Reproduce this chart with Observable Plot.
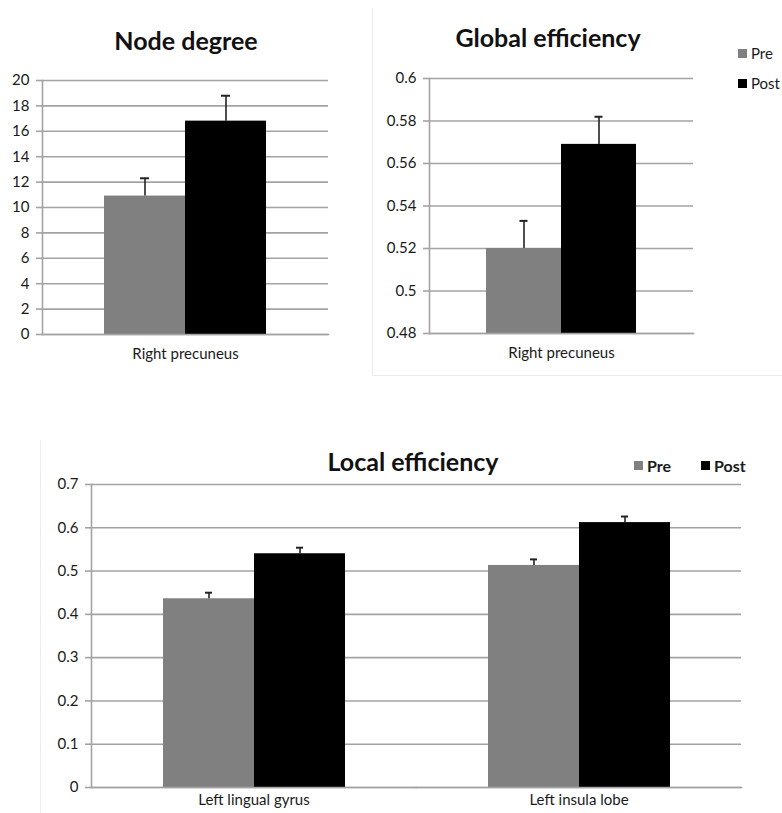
<!DOCTYPE html>
<html>
<head>
<meta charset="utf-8">
<script src="https://cdn.jsdelivr.net/npm/d3@7"></script>
<script src="https://cdn.jsdelivr.net/npm/@observablehq/plot@0.6"></script>
<style>
  body { margin: 0; background: #fff; font-family: Lato, "Open Sans", sans-serif; }
  #root { position: relative; width: 782px; height: 813px; overflow: hidden; }
  .abs { position: absolute; }
  .title { font-weight: bold; color: #111; white-space: nowrap; transform: translateX(-50%); }
  .leg { display: flex; align-items: center; font-size: 15px; color: #1a1a1a; white-space: nowrap; }
  .sw { width: 9px; height: 9px; margin-right: 4px; display: inline-block; }
</style>
</head>
<body>
<div id="root">
  <div class="abs" style="left:372px;top:8px;width:420px;height:367px;border-left:1px solid #ececec;border-bottom:1px solid #ececec;"></div>
  <div class="abs" style="left:40px;top:440px;width:1px;height:380px;background:#ececec;"></div>

  <div class="abs title" style="left:186px;top:25px;font-size:25px;">Node degree</div>
  <div class="abs title" style="left:548px;top:22px;font-size:25px;">Global efficiency</div>
  <div class="abs title" style="left:413px;top:446px;font-size:25px;">Local efficiency</div>

  <div class="abs leg" style="left:738px;top:44px;"><span class="sw" style="background:#808080"></span>Pre</div>
  <div class="abs leg" style="left:738px;top:74px;"><span class="sw" style="background:#000"></span>Post</div>

  <div class="abs leg" style="left:634px;top:456px;font-weight:bold;font-size:16px;"><span class="sw" style="background:#808080"></span>Pre</div>
  <div class="abs leg" style="left:701px;top:456px;font-weight:bold;font-size:16px;"><span class="sw" style="background:#000"></span>Post</div>

  <div id="p1" class="abs" style="left:0;top:66px;"></div>
  <div id="p2" class="abs" style="left:372px;top:64px;"></div>
  <div id="p3" class="abs" style="left:0;top:470px;"></div>
</div>
<script>
// ---- data ----
const series = ["Pre", "Post"];
const seriesColors = ["#808080", "#000000"];

const nodeRegions = ["Right precuneus"];
const nodeMean = [10.9, 16.8];
const nodeSE = [1.4, 2.0];
const nodeTicks = [0, 2, 4, 6, 8, 10, 12, 14, 16, 18, 20];

const globalRegions = ["Right precuneus"];
const globalMean = [0.520, 0.569];
const globalSE = [0.013, 0.013];
const globalTicks = [0.48, 0.50, 0.52, 0.54, 0.56, 0.58, 0.60];

const localRegions = ["Left lingual gyrus", "Left insula lobe"];
const localPre = [0.436, 0.513];
const localPost = [0.540, 0.612];
const localPreSE = [0.014, 0.014];
const localPostSE = [0.014, 0.014];
const localTicks = [0, 0.1, 0.2, 0.3, 0.4, 0.5, 0.6, 0.7];

// ---- tables ----
const nodeData = series.map((s, i) => ({region: nodeRegions[0], series: s, value: nodeMean[i], se: nodeSE[i]}));
const globalData = series.map((s, i) => ({region: globalRegions[0], series: s, value: globalMean[i], se: globalSE[i]}));
const localData = localRegions.flatMap((r, j) => [
  {region: r, series: "Pre", value: localPre[j], se: localPreSE[j]},
  {region: r, series: "Post", value: localPost[j], se: localPostSE[j]}
]);

const GRID = "#a3a3a3";

function panel({data, regions, ticks, domain, fmt, width, height, margins, padOuter, capInset, labelPad}) {
  return Plot.plot({
    width, height,
    marginLeft: margins[0], marginRight: margins[1], marginTop: margins[2], marginBottom: margins[3],
    style: {fontFamily: "Lato, sans-serif", fontSize: "15px", color: "#1a1a1a", background: "transparent", overflow: "visible"},
    fx: {domain: regions, padding: 0, label: null, axis: null},
    x: {domain: series, paddingInner: 0, paddingOuter: padOuter, axis: null},
    y: {domain, clamp: true, ticks, label: null},
    color: {domain: series, range: seriesColors},
    marks: [
      Plot.gridY(ticks, {stroke: GRID, strokeOpacity: 1, strokeWidth: 1.6}),
      Plot.barY(data, {fx: "region", x: "series", y: "value", fill: "series"}),
      Plot.ruleX(data, {fx: "region", x: "series", y1: "value", y2: d => d.value + d.se, stroke: "#222", strokeWidth: 1.6}),
      Plot.tickY(data, {fx: "region", x: "series", y: d => d.value + d.se, stroke: "#222", strokeWidth: 2, insetLeft: capInset, insetRight: capInset}),
      Plot.frame({anchor: "bottom", stroke: GRID, strokeWidth: 1.6}),
      Plot.frame({anchor: "left", stroke: GRID, strokeWidth: 1.6, facetAnchor: "left"}),
      Plot.axisY(ticks, {tickSize: 6, tickPadding: 7, stroke: GRID, strokeWidth: 1.6, tickFormat: fmt, label: null}),
      Plot.axisFx({anchor: "bottom", tickSize: 0, tickPadding: labelPad, label: null})
    ]
  });
}

document.getElementById("p1").append(panel({
  data: nodeData, regions: nodeRegions, ticks: nodeTicks, domain: [0, 20], fmt: d => String(d),
  width: 372, height: 309, margins: [42, 44, 14, 41], padOuter: 0.765, capInset: 36, labelPad: 14
}));

document.getElementById("p2").append(panel({
  data: globalData, regions: globalRegions, ticks: globalTicks, domain: [0.48, 0.6], fmt: d => String(+d.toFixed(2)),
  width: 330, height: 311, margins: [57, 9, 14, 42], padOuter: 0.76, capInset: 33.5, labelPad: 14
}));

document.getElementById("p3").append(panel({
  data: localData, regions: localRegions, ticks: localTicks, domain: [0, 0.7], fmt: d => String(+d.toFixed(1)),
  width: 782, height: 343, margins: [91, 41, 14, 26], padOuter: 0.776, capInset: 42, labelPad: 7
}));
</script>
</body>
</html>
